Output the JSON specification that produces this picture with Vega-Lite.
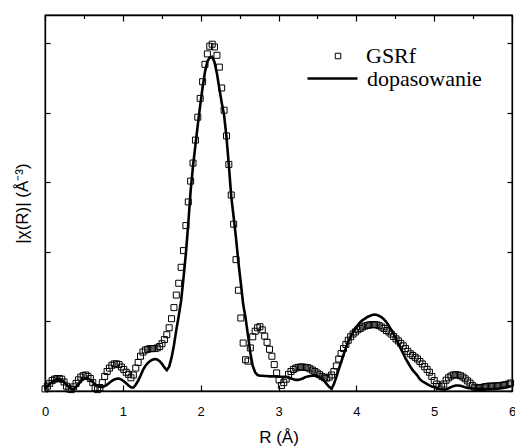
{
"$schema": "https://vega.github.io/schema/vega-lite/v6.json",
"width": 467, "height": 376,
"autosize": "none",
"padding": {"left": 45, "top": 15, "right": 3, "bottom": 55},
"background": "white",
"config": {"view": {"stroke": "black", "strokeWidth": 1.3}},
"data": {"values": [
{"r":0.000,"obs":0.03,"fit":0.03},{"r":0.031,"obs":0.07,"fit":0.07},{"r":0.061,"obs":0.11,"fit":0.10},{"r":0.092,"obs":0.15,"fit":0.13},{"r":0.123,"obs":0.17,"fit":0.155},
{"r":0.153,"obs":0.18,"fit":0.165},{"r":0.184,"obs":0.18,"fit":0.17},{"r":0.215,"obs":0.17,"fit":0.16},{"r":0.245,"obs":0.13,"fit":0.13},{"r":0.276,"obs":0.07,"fit":0.09},
{"r":0.307,"obs":0.03,"fit":0.06},{"r":0.337,"obs":0.02,"fit":0.03},{"r":0.368,"obs":0.06,"fit":0.025},{"r":0.399,"obs":0.11,"fit":0.06},{"r":0.430,"obs":0.16,"fit":0.10},
{"r":0.460,"obs":0.20,"fit":0.14},{"r":0.491,"obs":0.22,"fit":0.17},{"r":0.522,"obs":0.23,"fit":0.18},{"r":0.552,"obs":0.21,"fit":0.18},{"r":0.583,"obs":0.18,"fit":0.155},
{"r":0.614,"obs":0.12,"fit":0.13},{"r":0.644,"obs":0.05,"fit":0.09},{"r":0.675,"obs":0.02,"fit":0.07},{"r":0.706,"obs":0.05,"fit":0.06},{"r":0.736,"obs":0.12,"fit":0.055},
{"r":0.767,"obs":0.21,"fit":0.07},{"r":0.798,"obs":0.28,"fit":0.09},{"r":0.828,"obs":0.33,"fit":0.12},{"r":0.859,"obs":0.37,"fit":0.145},{"r":0.890,"obs":0.39,"fit":0.165},
{"r":0.920,"obs":0.39,"fit":0.175},{"r":0.951,"obs":0.38,"fit":0.18},{"r":0.982,"obs":0.345,"fit":0.165},{"r":1.012,"obs":0.31,"fit":0.14},{"r":1.043,"obs":0.27,"fit":0.11},
{"r":1.074,"obs":0.24,"fit":0.08},{"r":1.104,"obs":0.19,"fit":0.055},{"r":1.135,"obs":0.23,"fit":0.05},{"r":1.166,"obs":0.33,"fit":0.09},{"r":1.197,"obs":0.41,"fit":0.15},
{"r":1.227,"obs":0.50,"fit":0.22},{"r":1.258,"obs":0.56,"fit":0.30},{"r":1.289,"obs":0.59,"fit":0.36},{"r":1.319,"obs":0.60,"fit":0.40},{"r":1.350,"obs":0.61,"fit":0.43},
{"r":1.381,"obs":0.61,"fit":0.45},{"r":1.411,"obs":0.61,"fit":0.46},{"r":1.442,"obs":0.62,"fit":0.455},{"r":1.473,"obs":0.64,"fit":0.43},{"r":1.503,"obs":0.68,"fit":0.39},
{"r":1.534,"obs":0.74,"fit":0.34},{"r":1.565,"obs":0.81,"fit":0.30},{"r":1.595,"obs":0.91,"fit":0.35},{"r":1.626,"obs":1.04,"fit":0.48},{"r":1.657,"obs":1.20,"fit":0.66},
{"r":1.687,"obs":1.38,"fit":0.88},{"r":1.718,"obs":1.55,"fit":1.08},{"r":1.749,"obs":1.78,"fit":1.30},{"r":1.779,"obs":2.02,"fit":1.62},{"r":1.810,"obs":2.38,"fit":1.98},
{"r":1.841,"obs":2.72,"fit":2.41},{"r":1.871,"obs":3.02,"fit":2.88},{"r":1.902,"obs":3.28,"fit":3.24},{"r":1.933,"obs":3.61,"fit":3.54},{"r":1.963,"obs":3.94,"fit":3.83},
{"r":1.994,"obs":4.21,"fit":4.11},{"r":2.025,"obs":4.45,"fit":4.37},{"r":2.055,"obs":4.70,"fit":4.59},{"r":2.086,"obs":4.85,"fit":4.74},{"r":2.117,"obs":4.96,"fit":4.80},
{"r":2.148,"obs":4.99,"fit":4.81},{"r":2.178,"obs":4.95,"fit":4.73},{"r":2.209,"obs":4.83,"fit":4.57},{"r":2.240,"obs":4.66,"fit":4.35},{"r":2.270,"obs":4.36,"fit":4.15},
{"r":2.301,"obs":4.04,"fit":3.97},{"r":2.332,"obs":3.67,"fit":3.65},{"r":2.362,"obs":3.26,"fit":3.25},{"r":2.393,"obs":2.82,"fit":2.80},{"r":2.424,"obs":2.40,"fit":2.50},
{"r":2.454,"obs":1.89,"fit":2.20},{"r":2.485,"obs":1.45,"fit":1.85},{"r":2.516,"obs":1.05,"fit":1.55},{"r":2.546,"obs":0.69,"fit":1.25},{"r":2.577,"obs":0.45,"fit":1.05},
{"r":2.608,"obs":0.43,"fit":0.80},{"r":2.638,"obs":0.62,"fit":0.55},{"r":2.669,"obs":0.78,"fit":0.36},{"r":2.700,"obs":0.86,"fit":0.27},{"r":2.731,"obs":0.91,"fit":0.23},
{"r":2.761,"obs":0.925,"fit":0.22},{"r":2.792,"obs":0.88,"fit":0.22},{"r":2.823,"obs":0.79,"fit":0.215},{"r":2.853,"obs":0.70,"fit":0.215},{"r":2.884,"obs":0.60,"fit":0.21},
{"r":2.915,"obs":0.50,"fit":0.21},{"r":2.945,"obs":0.38,"fit":0.21},{"r":2.976,"obs":0.26,"fit":0.21},{"r":3.007,"obs":0.16,"fit":0.205},{"r":3.037,"obs":0.08,"fit":0.205},
{"r":3.068,"obs":0.12,"fit":0.20},{"r":3.099,"obs":0.17,"fit":0.20},{"r":3.129,"obs":0.24,"fit":0.19},{"r":3.160,"obs":0.28,"fit":0.18},{"r":3.191,"obs":0.31,"fit":0.17},
{"r":3.221,"obs":0.33,"fit":0.16},{"r":3.252,"obs":0.34,"fit":0.16},{"r":3.283,"obs":0.345,"fit":0.17},{"r":3.313,"obs":0.345,"fit":0.18},{"r":3.344,"obs":0.34,"fit":0.20},
{"r":3.375,"obs":0.335,"fit":0.21},{"r":3.405,"obs":0.32,"fit":0.215},{"r":3.436,"obs":0.30,"fit":0.22},{"r":3.467,"obs":0.28,"fit":0.22},{"r":3.497,"obs":0.26,"fit":0.21},
{"r":3.528,"obs":0.235,"fit":0.20},{"r":3.559,"obs":0.21,"fit":0.18},{"r":3.590,"obs":0.19,"fit":0.14},{"r":3.620,"obs":0.185,"fit":0.10},{"r":3.651,"obs":0.20,"fit":0.06},
{"r":3.682,"obs":0.23,"fit":0.03},{"r":3.712,"obs":0.28,"fit":0.10},{"r":3.743,"obs":0.36,"fit":0.20},{"r":3.774,"obs":0.46,"fit":0.31},{"r":3.804,"obs":0.54,"fit":0.41},
{"r":3.835,"obs":0.61,"fit":0.52},{"r":3.866,"obs":0.67,"fit":0.62},{"r":3.896,"obs":0.73,"fit":0.71},{"r":3.927,"obs":0.78,"fit":0.78},{"r":3.958,"obs":0.82,"fit":0.85},
{"r":3.988,"obs":0.85,"fit":0.90},{"r":4.019,"obs":0.88,"fit":0.95},{"r":4.050,"obs":0.90,"fit":0.99},{"r":4.080,"obs":0.92,"fit":1.02},{"r":4.111,"obs":0.935,"fit":1.04},
{"r":4.142,"obs":0.945,"fit":1.065},{"r":4.172,"obs":0.95,"fit":1.08},{"r":4.203,"obs":0.955,"fit":1.095},{"r":4.234,"obs":0.955,"fit":1.10},{"r":4.264,"obs":0.95,"fit":1.095},
{"r":4.295,"obs":0.94,"fit":1.08},{"r":4.326,"obs":0.92,"fit":1.06},{"r":4.356,"obs":0.90,"fit":1.03},{"r":4.387,"obs":0.87,"fit":0.99},{"r":4.418,"obs":0.85,"fit":0.94},
{"r":4.448,"obs":0.82,"fit":0.88},{"r":4.479,"obs":0.785,"fit":0.82},{"r":4.510,"obs":0.75,"fit":0.75},{"r":4.540,"obs":0.72,"fit":0.68},{"r":4.571,"obs":0.685,"fit":0.61},
{"r":4.602,"obs":0.65,"fit":0.54},{"r":4.632,"obs":0.61,"fit":0.47},{"r":4.663,"obs":0.57,"fit":0.41},{"r":4.694,"obs":0.535,"fit":0.35},{"r":4.724,"obs":0.51,"fit":0.30},
{"r":4.755,"obs":0.485,"fit":0.26},{"r":4.786,"obs":0.46,"fit":0.22},{"r":4.816,"obs":0.425,"fit":0.17},{"r":4.847,"obs":0.39,"fit":0.14},{"r":4.878,"obs":0.35,"fit":0.12},
{"r":4.909,"obs":0.31,"fit":0.10},{"r":4.939,"obs":0.27,"fit":0.08},{"r":4.970,"obs":0.21,"fit":0.065},{"r":5.001,"obs":0.15,"fit":0.055},{"r":5.031,"obs":0.10,"fit":0.045},
{"r":5.062,"obs":0.065,"fit":0.035},{"r":5.093,"obs":0.07,"fit":0.025},{"r":5.123,"obs":0.10,"fit":0.02},{"r":5.154,"obs":0.155,"fit":0.025},{"r":5.185,"obs":0.19,"fit":0.04},
{"r":5.215,"obs":0.215,"fit":0.055},{"r":5.246,"obs":0.23,"fit":0.07},{"r":5.277,"obs":0.235,"fit":0.08},{"r":5.307,"obs":0.23,"fit":0.08},{"r":5.338,"obs":0.22,"fit":0.075},
{"r":5.369,"obs":0.20,"fit":0.065},{"r":5.399,"obs":0.175,"fit":0.055},{"r":5.430,"obs":0.145,"fit":0.045},{"r":5.461,"obs":0.115,"fit":0.04},{"r":5.491,"obs":0.08,"fit":0.035},
{"r":5.522,"obs":0.055,"fit":0.035},{"r":5.553,"obs":0.045,"fit":0.03},{"r":5.583,"obs":0.045,"fit":0.03},{"r":5.614,"obs":0.05,"fit":0.03},{"r":5.645,"obs":0.06,"fit":0.025},
{"r":5.675,"obs":0.065,"fit":0.025},{"r":5.706,"obs":0.07,"fit":0.025},{"r":5.737,"obs":0.07,"fit":0.025},{"r":5.767,"obs":0.07,"fit":0.03},{"r":5.798,"obs":0.075,"fit":0.03},
{"r":5.829,"obs":0.075,"fit":0.035},{"r":5.859,"obs":0.08,"fit":0.04},{"r":5.890,"obs":0.085,"fit":0.045},{"r":5.921,"obs":0.09,"fit":0.05},{"r":5.951,"obs":0.10,"fit":0.06},
{"r":5.982,"obs":0.115,"fit":0.07}
]},
"layer": [
{"mark": {"type": "point", "filled": false, "color": "black", "strokeWidth": 1, "size": 36, "opacity": 1},
 "encoding": {
  "x": {"field": "r", "type": "quantitative", "scale": {"domain": [0, 6], "nice": false, "zero": false},
   "axis": {"orient": "bottom", "values": [0,0.5,1,1.5,2,2.5,3,3.5,4,4.5,5,5.5,6], "format": "d",
    "labelExpr": "datum.value % 1 === 0 ? datum.label : ''",
    "tickSize": {"condition": {"test": "datum.value % 1 === 0", "value": -6}, "value": -3.5},
    "grid": false, "domainColor": "black", "domainWidth": 1.3, "tickColor": "black", "tickWidth": 1.2,
    "labelFont": "Liberation Sans", "labelFontSize": 13, "labelColor": "black", "labelPadding": 20,
    "labelOverlap": false, "labelFlush": false, "labelBound": false,
    "title": "R (Å)", "titleFont": "Liberation Sans", "titleFontSize": 17, "titleFontWeight": "normal", "titleColor": "black", "titlePadding": 11}},
  "y": {"field": "obs", "type": "quantitative", "scale": {"domain": [0, 5.41], "nice": false},
   "axis": {"orient": "left", "values": [0,1,2,3,4,5], "labels": false, "tickSize": -5, "grid": false,
    "domainColor": "black", "domainWidth": 1.3, "tickColor": "black", "tickWidth": 1.2,
    "title": "|χ(R)| (Å⁻³)", "titleFont": "Liberation Sans", "titleFontSize": 17, "titleFontWeight": "normal", "titleColor": "black", "titlePadding": 13}},
  "shape": {"datum": "GSRf", "scale": {"range": ["square"]},
   "legend": {"orient": "none", "legendX": 282, "legendY": 30, "title": null, "padding": 0,
    "symbolType": "square", "symbolSize": 30, "symbolStrokeColor": "black", "symbolStrokeWidth": 1, "symbolFillColor": "white",
    "labelFont": "Liberation Serif", "labelFontSize": 22, "labelColor": "black", "labelOffset": 17}}
 }},
{"mark": {"type": "line", "strokeWidth": 2.6},
 "encoding": {
  "x": {"field": "r", "type": "quantitative",
   "axis": {"orient": "top", "values": [0,0.5,1,1.5,2,2.5,3,3.5,4,4.5,5,5.5,6], "labels": false,
    "tickSize": {"condition": {"test": "datum.value % 1 === 0", "value": -6}, "value": -3.5},
    "grid": false, "domainColor": "black", "domainWidth": 1.3, "tickColor": "black", "tickWidth": 1.2, "title": null}},
  "y": {"field": "fit", "type": "quantitative",
   "axis": {"orient": "right", "values": [0,1,2,3,4,5], "labels": false, "tickSize": -5, "grid": false,
    "domainColor": "black", "domainWidth": 1.3, "tickColor": "black", "tickWidth": 1.2, "title": null}},
  "color": {"datum": "dopasowanie", "scale": {"range": ["black"]},
   "legend": {"orient": "none", "legendX": 261, "legendY": 37, "title": null, "padding": 0,
    "symbolType": "stroke", "symbolSize": 2500, "symbolStrokeWidth": 2.6, "symbolStrokeColor": "black",
    "labelFont": "Liberation Serif", "labelFontSize": 22, "labelColor": "black", "labelOffset": 8}}
 }}
],
"resolve": {"axis": {"x": "independent", "y": "independent"}}
}
